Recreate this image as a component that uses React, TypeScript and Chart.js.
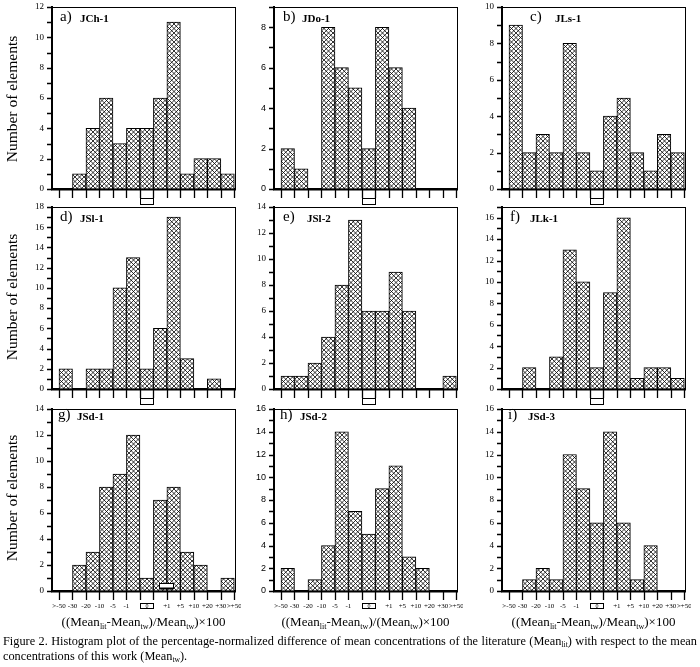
import React, { useEffect, useRef } from "react";
import { Chart, registerables } from "chart.js";

Chart.register(...registerables);

// ---- data ----
const binEdgeLabels = [">-50", "-30", "-20", "-10", "-5", "-1", "", "", "+1", "+5", "+10", "+20", "+30", ">+50"];
const zeroBinLabel = "0";
const panelLetters = ["a)", "b)", "c)", "d)", "e)", "f)", "g)", "h)", "i)"];
const panelNames = ["JCh-1", "JDo-1", "JLs-1", "JSl-1", "JSl-2", "JLk-1", "JSd-1", "JSd-2", "JSd-3"];
const countsJCh1 = [0, 1, 4, 6, 3, 4, 4, 6, 11, 1, 2, 2, 1];
const countsJDo1 = [2, 1, 0, 8, 6, 5, 2, 8, 6, 4, 0, 0, 0];
const countsJLs1 = [9, 2, 3, 2, 8, 2, 1, 4, 5, 2, 1, 3, 2];
const countsJSl1 = [2, 0, 2, 2, 10, 13, 2, 6, 17, 3, 0, 1, 0];
const countsJSl2 = [1, 1, 2, 4, 8, 13, 6, 6, 9, 6, 0, 0, 1];
const countsJLk1 = [0, 2, 0, 3, 13, 10, 2, 9, 16, 1, 2, 2, 1];
const countsJSd1 = [0, 2, 3, 8, 9, 12, 1, 7, 8, 3, 2, 0, 1];
const countsJSd2 = [2, 0, 1, 4, 14, 7, 5, 9, 11, 3, 2, 0, 0];
const countsJSd3 = [0, 1, 2, 1, 12, 9, 6, 14, 6, 1, 4, 0, 0];
const yAxisMax = [12, 9, 10, 18, 14, 17, 14, 16, 16];
const yAxisTitle = "Number of elements";
const captionLine1a = "Figure 2. Histogram plot of the percentage-normalized difference of mean concentrations of the literature (Mean";
const captionLine1b = ") with respect to the mean";
const captionLine2a = "concentrations of this work (Mean";
const captionLine2b = ").";

const allCounts = [countsJCh1, countsJDo1, countsJLs1, countsJSl1, countsJSl2, countsJLk1, countsJSd1, countsJSd2, countsJSd3];

// ---- layout ----
const COL_LEFT = [52, 274, 502];
const ROW_TOP = [7, 207, 409];
const PLOT_W = 183;
const PLOT_H = 182;
const Y_W = 40;
const PAD_T = 10;
const PAD_R = 6;
const X_H = 28;
const TITLE_POS = [
  [60, 80], [283, 302], [530, 555],
  [60, 80], [283, 307], [510, 530],
  [58, 77], [280, 300], [508, 528],
];
const TITLE_BASE = [22, 222, 420];
const SERIF = '"Liberation Serif", "Times New Roman", serif';
const SANS = '"Liberation Sans", Arial, sans-serif';
const Y_FONT = [SERIF, SANS, SERIF, SERIF, SERIF, SERIF, SERIF, SANS, SERIF];

function makeHatch(): CanvasPattern | string {
  const P = 9;
  const S = 4.5;
  const c = document.createElement("canvas");
  c.width = P;
  c.height = P;
  const g = c.getContext("2d");
  if (!g) return "#ccc";
  g.fillStyle = "#fff";
  g.fillRect(0, 0, P, P);
  g.strokeStyle = "#000";
  g.lineWidth = 0.8;
  g.beginPath();
  for (let k = -3; k <= 3; k++) {
    g.moveTo(k * S, 0);
    g.lineTo(k * S + P, P);
    g.moveTo(k * S, P);
    g.lineTo(k * S + P, 0);
  }
  g.stroke();
  return g.createPattern(c, "repeat") || "#ccc";
}

const decoPlugin = {
  id: "deco",
  afterDraw(chart: any, _args: any, opts: any) {
    const { ctx, chartArea } = chart;
    const { left, right, top, bottom } = chartArea;
    const x = chart.scales.x;
    const y = chart.scales.y;
    ctx.save();
    ctx.setLineDash([]);
    ctx.globalAlpha = 1;
    ctx.strokeStyle = "#000";
    ctx.lineWidth = 1;
    ctx.beginPath();
    ctx.moveTo(left, top + 0.5);
    ctx.lineTo(right + 0.5, top + 0.5);
    ctx.moveTo(right + 0.5, top);
    ctx.lineTo(right + 0.5, bottom);
    ctx.stroke();
    // tick marks
    ctx.lineWidth = 1.3;
    const yb = Math.round(bottom);
    ctx.beginPath();
    for (let i = 0; i < binEdgeLabels.length; i++) {
      const px = Math.round(x.getPixelForValue(i)) + 0.5;
      ctx.moveTo(px, yb);
      ctx.lineTo(px, yb + 9);
    }
    const xl = Math.round(left);
    const ym = Number(opts.yMax) || 0;
    for (let v = 0; v <= ym; v++) {
      const py = Math.round(y.getPixelForValue(v)) + 0.5;
      ctx.moveTo(xl - 5, py);
      ctx.lineTo(xl, py);
    }
    ctx.stroke();
    ctx.lineWidth = 1;
    const x0 = Math.round(x.getPixelForValue(6)) + 0.5;
    const x1 = Math.round(x.getPixelForValue(7)) + 0.5;
    if (opts.bottomRow) {
      const y0 = yb + 12.5;
      const h = 5;
      ctx.fillStyle = "#fff";
      ctx.fillRect(x0, y0, x1 - x0, h);
      ctx.strokeRect(x0, y0, x1 - x0, h);
      ctx.fillStyle = "#000";
      ctx.font = `6px ${SERIF}`;
      ctx.textAlign = "center";
      ctx.textBaseline = "middle";
      ctx.fillText(zeroBinLabel, (x0 + x1) / 2, y0 + h / 2 + 0.5);
    } else {
      ctx.strokeRect(x0, yb + 9.5, x1 - x0, 6);
    }
    if (opts.artifact) {
      const a0 = Math.round(x.getPixelForValue(7.42)) + 0.5;
      const a1 = Math.round(x.getPixelForValue(8.46)) + 0.5;
      const ay = yb - 7.5;
      ctx.fillStyle = "#fff";
      ctx.fillRect(a0, ay, a1 - a0, 5);
      ctx.strokeRect(a0, ay, a1 - a0, 5);
      ctx.lineWidth = 2;
      ctx.beginPath();
      ctx.moveTo(a0, ay + 5);
      ctx.lineTo(a1, ay + 5);
      ctx.stroke();
    }
    ctx.restore();
  },
};

function Panel({ idx }: { idx: number }) {
  const ref = useRef<HTMLCanvasElement | null>(null);
  const col = idx % 3;
  const row = Math.floor(idx / 3);
  const bottomRow = row === 2;
  const w = Y_W + PLOT_W + PAD_R;
  const h = PAD_T + PLOT_H + X_H;
  useEffect(() => {
    const canvas = ref.current;
    if (!canvas) return;
    const counts = allCounts[idx];
    const yMax = yAxisMax[idx];
    const chart = new Chart(canvas, {
      type: "bar",
      data: {
        datasets: [
          {
            data: counts.map((v, i) => ({ x: i + 0.5, y: v })),
            backgroundColor: makeHatch() as any,
            borderColor: "#000",
            borderWidth: 1,
            borderSkipped: "start",
            barPercentage: 1,
            categoryPercentage: 1,
          } as any,
        ],
      },
      options: {
        responsive: false,
        maintainAspectRatio: false,
        animation: false,
        events: [],
        layout: { padding: { top: PAD_T, right: PAD_R, left: 0, bottom: 0 } },
        plugins: {
          legend: { display: false },
          tooltip: { enabled: false },
          deco: { bottomRow, artifact: idx === 6, yMax },
        } as any,
        scales: {
          x: {
            type: "linear",
            min: -0.52,
            max: 13.05,
            offset: false,
            afterBuildTicks: (s: any) => {
              s.ticks = binEdgeLabels.map((_, i) => ({ value: i }));
            },
            afterFit: (s: any) => {
              s.height = X_H;
              s.paddingLeft = 0;
              s.paddingRight = 0;
              s.paddingTop = 0;
              s.paddingBottom = 0;
            },
            ticks: {
              display: bottomRow,
              autoSkip: false,
              maxRotation: 0,
              minRotation: 0,
              padding: 2,
              color: "#000",
              font: { family: SERIF, size: 7 },
              callback: (v: any) => binEdgeLabels[Math.round(Number(v))] ?? "",
            },
            grid: {
              display: true,
              offset: false,
              drawOnChartArea: false,
              drawTicks: true,
              tickLength: 9,
              color: "rgba(0,0,0,0)",
              tickColor: "rgba(0,0,0,0)",
              tickWidth: 1,
            },
            border: { display: true, color: "#000", width: 2.5 },
          } as any,
          y: {
            type: "linear",
            min: 0,
            max: yMax,
            afterBuildTicks: (s: any) => {
              const t: any[] = [];
              for (let v = 0; v <= yMax; v++) t.push({ value: v });
              s.ticks = t;
            },
            afterFit: (s: any) => {
              s.width = Y_W;
              s.paddingLeft = 0;
              s.paddingRight = 0;
              s.paddingTop = 0;
              s.paddingBottom = 0;
            },
            ticks: {
              autoSkip: false,
              padding: 3,
              color: "#000",
              font: { family: Y_FONT[idx], size: 9 },
              callback: (v: any) => (Number(v) % 2 === 0 ? String(v) : ""),
            },
            grid: {
              display: true,
              drawOnChartArea: false,
              drawTicks: true,
              tickLength: 5,
              color: "rgba(0,0,0,0)",
              tickColor: "rgba(0,0,0,0)",
              tickWidth: 1,
            },
            border: { display: true, color: "#000", width: 2 },
          } as any,
        },
      },
      plugins: [decoPlugin as any],
    });
    return () => chart.destroy();
  }, [idx, bottomRow]);
  return (
    <canvas
      ref={ref}
      width={w}
      height={h}
      style={{
        position: "absolute",
        left: COL_LEFT[col] - Y_W,
        top: ROW_TOP[row] - PAD_T,
        width: w,
        height: h,
      }}
    />
  );
}

const sub = (t: string) => (
  <span style={{ fontSize: "0.62em", verticalAlign: "-0.32em", lineHeight: 0 }}>{t}</span>
);

export default function App() {
  const colCenters = COL_LEFT.map((l) => l + PLOT_W / 2);
  const rowCenters = [99, 297, 498];
  return (
    <div
      style={{
        position: "absolute",
        left: 0,
        top: 0,
        width: 700,
        height: 667,
        overflow: "hidden",
        background: "#fff",
        color: "#000",
        fontFamily: SERIF,
      }}
    >
      {panelNames.map((_, i) => (
        <Panel key={i} idx={i} />
      ))}
      {panelNames.map((name, i) => {
        const row = Math.floor(i / 3);
        const base = TITLE_BASE[row];
        return (
          <React.Fragment key={"t" + i}>
            <span
              style={{
                position: "absolute",
                left: TITLE_POS[i][0],
                top: base - 12.6,
                fontSize: 15,
                lineHeight: "15px",
                whiteSpace: "nowrap",
              }}
            >
              {panelLetters[i]}
            </span>
            <span
              style={{
                position: "absolute",
                left: TITLE_POS[i][1],
                top: base - 9.2,
                fontSize: 11,
                fontWeight: "bold",
                lineHeight: "11px",
                whiteSpace: "nowrap",
              }}
            >
              {name}
            </span>
          </React.Fragment>
        );
      })}
      {rowCenters.map((cy, r) => (
        <div
          key={"y" + r}
          style={{
            position: "absolute",
            left: 12,
            top: cy,
            transform: "translate(-50%, -50%) rotate(-90deg)",
            fontSize: 15.5,
            lineHeight: "16px",
            whiteSpace: "nowrap",
          }}
        >
          {yAxisTitle}
        </div>
      ))}
      {colCenters.map((cx, c) => (
        <div
          key={"x" + c}
          style={{
            position: "absolute",
            left: cx,
            top: 622,
            transform: "translate(-50%, -50%)",
            fontSize: 13,
            lineHeight: "14px",
            whiteSpace: "nowrap",
          }}
        >
          ((Mean{sub("lit")}-Mean{sub("tw")})/{c === 1 ? "(" : ""}Mean{sub("tw")})×100
        </div>
      ))}
      <div
        style={{
          position: "absolute",
          left: 3,
          top: 634,
          width: 694,
          fontSize: 12.3,
          lineHeight: "15px",
        }}
      >
        <div style={{ whiteSpace: "nowrap", textAlign: "justify", textAlignLast: "justify" } as any}>
          {captionLine1a}
          {sub("lit")}
          {captionLine1b}
        </div>
        <div style={{ whiteSpace: "nowrap" }}>
          {captionLine2a}
          {sub("tw")}
          {captionLine2b}
        </div>
      </div>
    </div>
  );
}
